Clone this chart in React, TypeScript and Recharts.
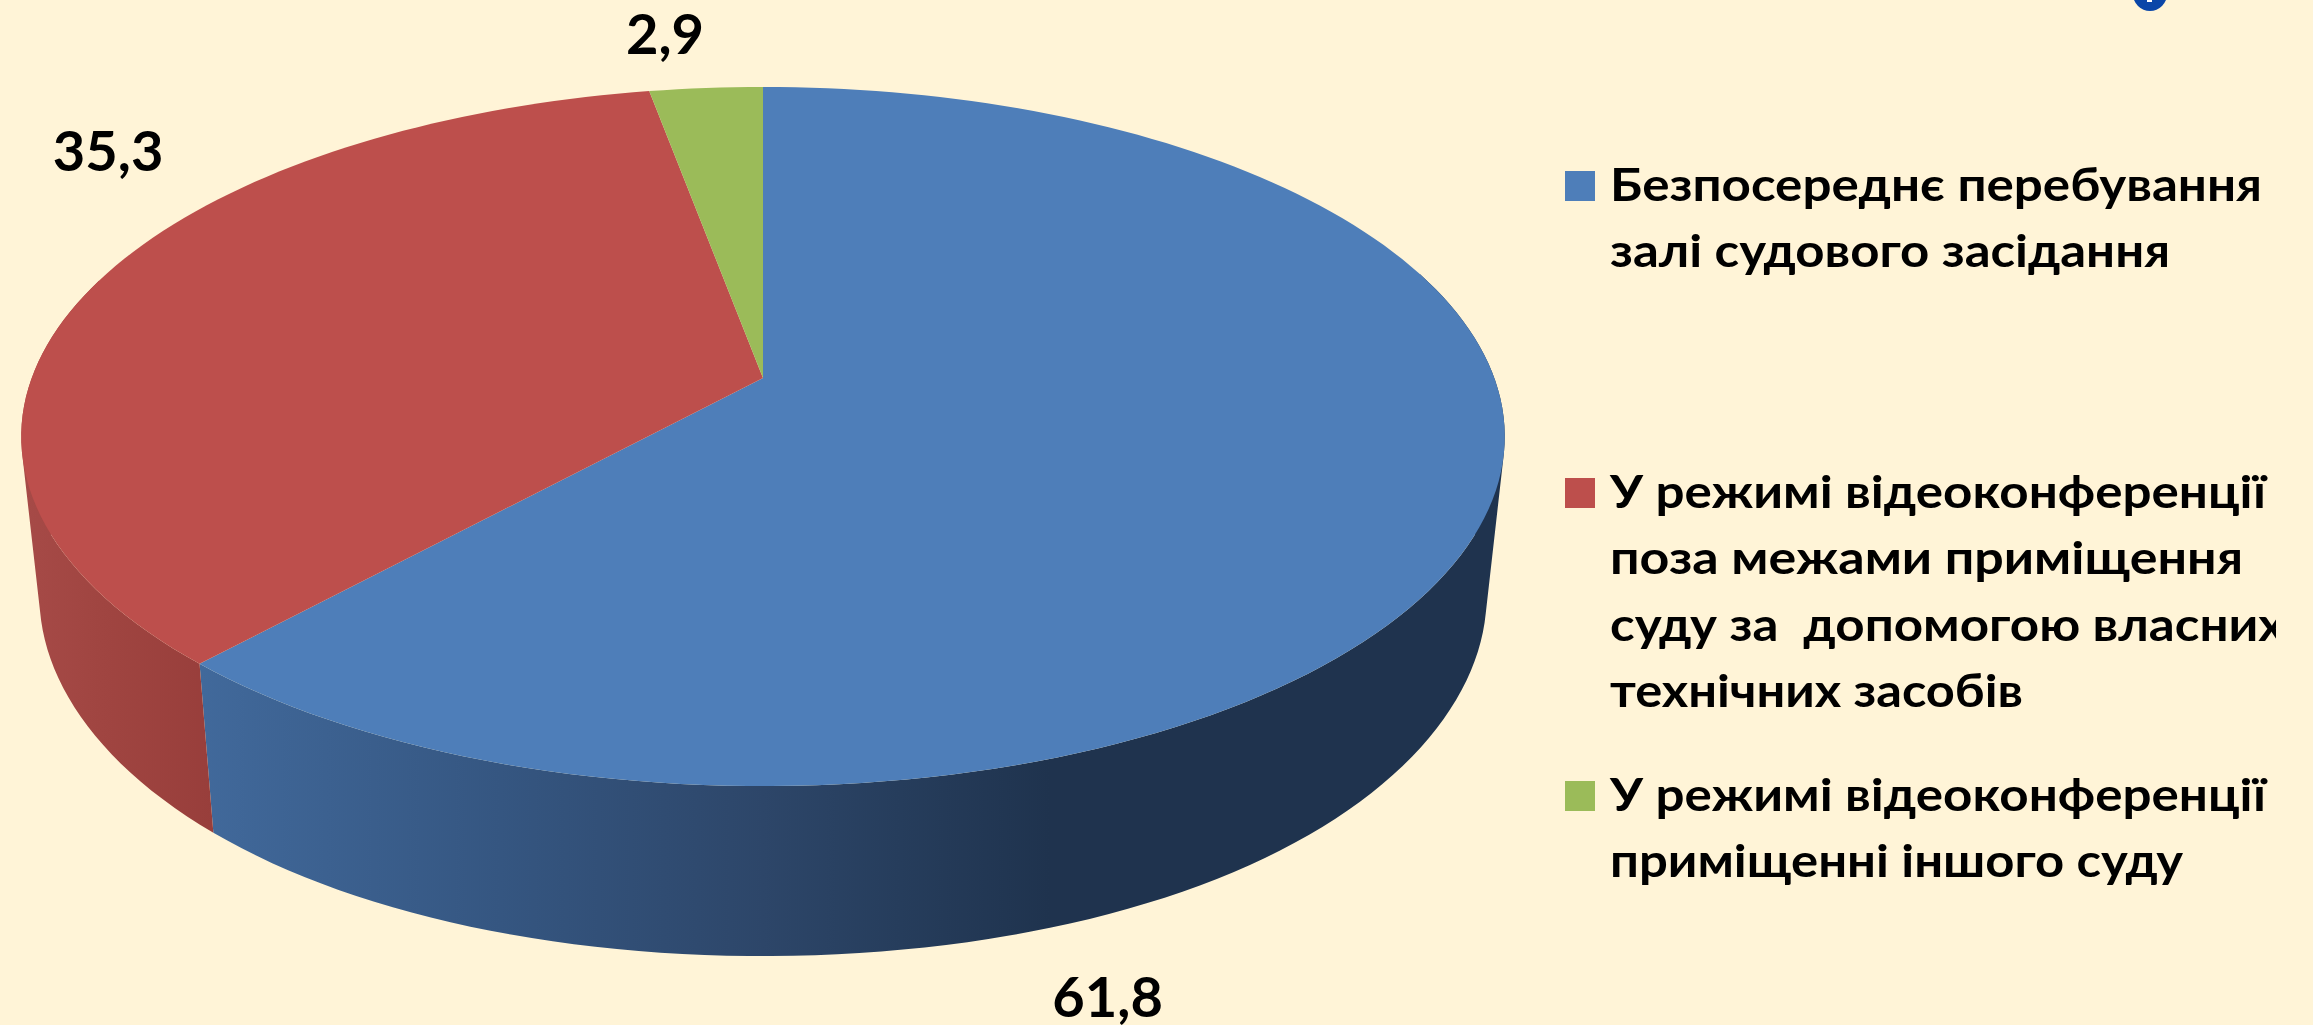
import React from "react";
import { PieChart, Pie, Legend } from "recharts";

const legendLines = [
  ["Безпосереднє перебування", "залі судового засідання"],
  ["У режимі відеоконференції", "поза межами приміщення", "суду за  допомогою власних", "технічних засобів"],
  ["У режимі відеоконференції", "приміщенні іншого суду"],
];
const values = [61.8, 35.3, 2.9];
const colors = ["#4E7EB9", "#BD4F4C", "#9BBB59"];

// measured line widths + where each legend block starts
const lineWidths = [[652, 560], [656, 633, 675, 413], [656, 573]];
const blockBaselines = [201, 508, 811];
const labelOffsets = [[-381, 508], [17, -117], [-41, -34]];

const wallStops = [
  [[200, "#41699B"], [500, "#355681"], [763, "#2D4669"], [900, "#263D5C"], [1050, "#1F334E"], [1510, "#1F334E"]],
  [[25, "#A64A47"], [100, "#A04541"], [215, "#983E3B"]],
  [[600, "#7C9647"], [770, "#7C9647"]],
];

const W = 2313;
const H = 1025;
const FONT = "Lato, 'Noto Sans', 'Open Sans', sans-serif";

// perspective of the tilted pie
const TILT = 0.4646;
const PERSP = 0.1674;
const VANISH_Y = 7725;
const DROP = 0.9755;
const SIDE_LIFT = 20; // the wall is a little shallower towards the sides

const tableData = values.map((value, i) => ({
  name: legendLines[i].join(" "),
  value,
  fill: colors[i],
  wall: `url(#wall${i})`,
}));

function project(angle: number, cx: number, cy: number, r: number) {
  const a = (angle * Math.PI) / 180;
  const ux = Math.cos(a);
  const uy = -Math.sin(a);
  const w = 1 - PERSP * uy;
  return { x: cx + (r * ux) / w, y: cy + (r * TILT * uy) / w, ux, uy };
}

const drop = (p: { x: number; y: number; ux: number }, cx: number) => ({
  x: cx + (p.x - cx) * DROP,
  y: VANISH_Y + (p.y - VANISH_Y) * DROP - SIDE_LIFT * Math.pow(p.ux, 4),
});

function Slice3D(props: any) {
  const { cx, cy, outerRadius, startAngle, endAngle, fill } = props;
  const wall = props.wall ?? props.payload?.wall;
  const n = Math.ceil(Math.abs(endAngle - startAngle) / 1.5) + 1;
  const pts = [];
  for (let i = 0; i <= n; i++) {
    pts.push(project(startAngle + ((endAngle - startAngle) * i) / n, cx, cy, outerRadius));
  }
  let wallPath = "";
  for (let i = 0; i < n; i++) {
    const a = pts[i];
    const b = pts[i + 1];
    if (a.uy < -0.3 && b.uy < -0.3) continue;
    const c = drop(b, cx);
    const d = drop(a, cx);
    const quad = [a, b, c, d];
    let area = 0;
    quad.forEach((p, j) => {
      const q = quad[(j + 1) % 4];
      area += p.x * q.y - q.x * p.y;
    });
    if (area < 0) quad.reverse();
    wallPath += "M" + quad.map((p) => `${p.x} ${p.y}`).join("L") + "Z";
  }
  const top = `M${cx} ${cy}L` + pts.map((p) => `${p.x} ${p.y}`).join("L") + "Z";
  return (
    <g>
      {wallPath && <path d={wallPath} fill={wall} />}
      <path d={top} fill={fill} />
    </g>
  );
}

function renderLabel(props: any) {
  const { cx, cy, midAngle, outerRadius, index, value } = props;
  const p = project(midAngle, cx, cy, outerRadius);
  const text = String(value).replace(".", ",");
  return (
    <text
      x={p.x + labelOffsets[index][0]}
      y={p.y + labelOffsets[index][1]}
      textAnchor="middle"
      fontFamily={FONT}
      fontWeight={700}
      fontSize={56}
      fill="#000"
    >
      {text}
    </text>
  );
}

const LEGEND_LEFT = 1560;
const LEGEND_WIDTH = 716;

function LegendBlock() {
  return (
    <svg width={LEGEND_WIDTH} height={H} style={{ display: "block" }}>
      {legendLines.map((lines, i) => (
        <g key={i}>
          <rect x={1565 - LEGEND_LEFT} y={blockBaselines[i] - 30} width={30} height={30} fill={colors[i]} />
          {lines.map((line, j) => (
            <text
              key={j}
              x={1610 - LEGEND_LEFT}
              y={blockBaselines[i] + j * 66.3}
              fontFamily={FONT}
              fontWeight={700}
              fontSize={46}
              fill="#000"
              textLength={lineWidths[i][j]}
              lengthAdjust="spacingAndGlyphs"
              xmlSpace="preserve"
            >
              {line}
            </text>
          ))}
        </g>
      ))}
    </svg>
  );
}

export default function App() {
  return (
    <div
      style={{
        position: "absolute",
        left: 0,
        top: 0,
        width: W,
        height: H,
        overflow: "hidden",
        background: "#FFF4D7",
      }}
    >
      <div
        style={{
          position: "absolute",
          left: 2133,
          top: -23,
          width: 34,
          height: 34,
          borderRadius: "50%",
          background: "#0A46A8",
        }}
      />
      <div style={{ position: "absolute", left: 2147, top: 0, width: 5, height: 2, background: "#FFFFFF" }} />
      <div style={{ filter: "blur(0.6px)" }}>
        <PieChart width={W} height={H} margin={{ top: 0, right: 0, bottom: 0, left: 0 }}>
          <defs>
            {wallStops.map((stops, i) => (
              <linearGradient
                key={i}
                id={`wall${i}`}
                gradientUnits="userSpaceOnUse"
                x1={stops[0][0]}
                x2={stops[stops.length - 1][0]}
                y1={0}
                y2={0}
              >
                {stops.map(([x, c], j) => (
                  <stop
                    key={j}
                    offset={((x as number) - (stops[0][0] as number)) / ((stops[stops.length - 1][0] as number) - (stops[0][0] as number))}
                    stopColor={c as string}
                  />
                ))}
              </linearGradient>
            ))}
          </defs>
          <Pie
            data={tableData}
            dataKey="value"
            nameKey="name"
            cx={763}
            cy={378}
            innerRadius={0}
            outerRadius={731.3}
            startAngle={90}
            endAngle={-270}
            stroke="none"
            shape={Slice3D}
            label={renderLabel}
            labelLine={false}
            isAnimationActive={false}
          />
          <Legend
            content={LegendBlock}
            wrapperStyle={{ position: "absolute", left: LEGEND_LEFT, top: 0, width: LEGEND_WIDTH, height: H }}
          />
        </PieChart>
      </div>
    </div>
  );
}
